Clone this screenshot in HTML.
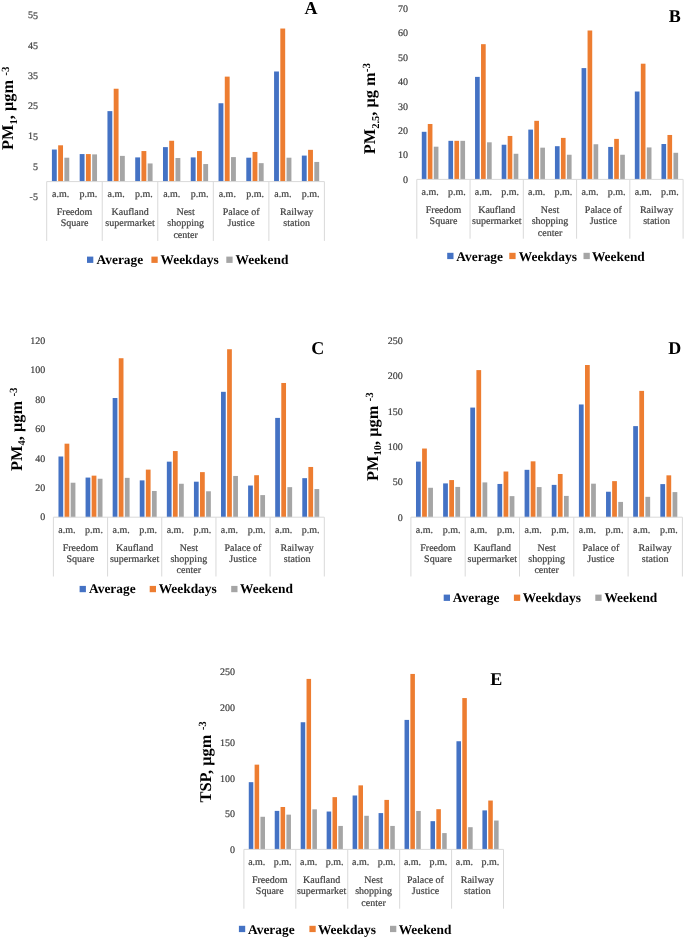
<!DOCTYPE html>
<html><head><meta charset="utf-8"><title>Particulate matter charts</title>
<style>
html,body{margin:0;padding:0;background:#fff;}
body{width:685px;height:937px;overflow:hidden;}
svg{display:block;will-change:transform;}
text{font-family:"Liberation Serif",serif;text-rendering:geometricPrecision;}
.tk{font-size:10px;fill:#404040;stroke:#404040;stroke-width:0.2px;}
.ttl{font-size:18px;font-weight:bold;fill:#000;}
.yt{font-size:16.4px;font-weight:bold;fill:#000;}
.yt .sm{font-size:10.5px;}
.yt .sp{font-size:11px;}
.lg{font-size:13.4px;font-weight:bold;fill:#000;}
</style></head>
<body>
<svg width="685" height="937" viewBox="0 0 685 937">
<rect width="685" height="937" fill="#fff"/>
<rect x="51.91" y="149.53" width="4.86" height="32.06" fill="#4472C4"/>
<rect x="58.16" y="145.3" width="4.86" height="36.3" fill="#ED7D31"/>
<rect x="64.4" y="157.7" width="4.86" height="23.9" fill="#A5A5A5"/>
<rect x="79.68" y="154.07" width="4.86" height="27.53" fill="#4472C4"/>
<rect x="85.93" y="154.07" width="4.86" height="27.53" fill="#ED7D31"/>
<rect x="92.17" y="154.38" width="4.86" height="27.22" fill="#A5A5A5"/>
<rect x="107.45" y="111.12" width="4.86" height="70.48" fill="#4472C4"/>
<rect x="113.7" y="88.73" width="4.86" height="92.87" fill="#ED7D31"/>
<rect x="119.94" y="155.89" width="4.86" height="25.71" fill="#A5A5A5"/>
<rect x="135.22" y="157.4" width="4.86" height="24.2" fill="#4472C4"/>
<rect x="141.47" y="151.05" width="4.86" height="30.55" fill="#ED7D31"/>
<rect x="147.71" y="163.45" width="4.86" height="18.15" fill="#A5A5A5"/>
<rect x="162.99" y="147.12" width="4.86" height="34.48" fill="#4472C4"/>
<rect x="169.24" y="140.76" width="4.86" height="40.84" fill="#ED7D31"/>
<rect x="175.48" y="158" width="4.86" height="23.59" fill="#A5A5A5"/>
<rect x="190.76" y="157.4" width="4.86" height="24.2" fill="#4472C4"/>
<rect x="197.01" y="151.05" width="4.86" height="30.55" fill="#ED7D31"/>
<rect x="203.25" y="164.06" width="4.86" height="17.54" fill="#A5A5A5"/>
<rect x="218.53" y="103.25" width="4.86" height="78.35" fill="#4472C4"/>
<rect x="224.78" y="76.63" width="4.86" height="104.97" fill="#ED7D31"/>
<rect x="231.02" y="157.1" width="4.86" height="24.5" fill="#A5A5A5"/>
<rect x="246.3" y="157.7" width="4.86" height="23.9" fill="#4472C4"/>
<rect x="252.55" y="151.95" width="4.86" height="29.64" fill="#ED7D31"/>
<rect x="258.79" y="163.15" width="4.86" height="18.45" fill="#A5A5A5"/>
<rect x="274.07" y="71.49" width="4.86" height="110.11" fill="#4472C4"/>
<rect x="280.32" y="28.53" width="4.86" height="153.06" fill="#ED7D31"/>
<rect x="286.56" y="157.7" width="4.86" height="23.9" fill="#A5A5A5"/>
<rect x="301.84" y="155.59" width="4.86" height="26.01" fill="#4472C4"/>
<rect x="308.09" y="149.84" width="4.86" height="31.76" fill="#ED7D31"/>
<rect x="314.33" y="161.94" width="4.86" height="19.66" fill="#A5A5A5"/>
<path d="M46.7 181.6H324.4" stroke="#D9D9D9" stroke-width="1" fill="none"/>
<path d="M46.7 181.6V240.9" stroke="#D9D9D9" stroke-width="1" fill="none"/>
<path d="M102.24 181.6V240.9" stroke="#D9D9D9" stroke-width="1" fill="none"/>
<path d="M157.78 181.6V240.9" stroke="#D9D9D9" stroke-width="1" fill="none"/>
<path d="M213.32 181.6V240.9" stroke="#D9D9D9" stroke-width="1" fill="none"/>
<path d="M268.86 181.6V240.9" stroke="#D9D9D9" stroke-width="1" fill="none"/>
<path d="M324.4 181.6V240.9" stroke="#D9D9D9" stroke-width="1" fill="none"/>
<rect x="421.79" y="131.8" width="4.66" height="47.6" fill="#4472C4"/>
<rect x="427.78" y="123.99" width="4.66" height="55.41" fill="#ED7D31"/>
<rect x="433.78" y="146.69" width="4.66" height="32.71" fill="#A5A5A5"/>
<rect x="448.42" y="140.83" width="4.66" height="38.57" fill="#4472C4"/>
<rect x="454.41" y="140.83" width="4.66" height="38.57" fill="#ED7D31"/>
<rect x="460.41" y="140.83" width="4.66" height="38.57" fill="#A5A5A5"/>
<rect x="475.05" y="76.88" width="4.66" height="102.52" fill="#4472C4"/>
<rect x="481.04" y="44.17" width="4.66" height="135.23" fill="#ED7D31"/>
<rect x="487.04" y="142.3" width="4.66" height="37.1" fill="#A5A5A5"/>
<rect x="501.68" y="144.74" width="4.66" height="34.66" fill="#4472C4"/>
<rect x="507.67" y="135.95" width="4.66" height="43.45" fill="#ED7D31"/>
<rect x="513.67" y="153.77" width="4.66" height="25.63" fill="#A5A5A5"/>
<rect x="528.31" y="129.6" width="4.66" height="49.8" fill="#4472C4"/>
<rect x="534.3" y="120.82" width="4.66" height="58.58" fill="#ED7D31"/>
<rect x="540.3" y="147.67" width="4.66" height="31.73" fill="#A5A5A5"/>
<rect x="554.94" y="146.2" width="4.66" height="33.2" fill="#4472C4"/>
<rect x="560.93" y="137.9" width="4.66" height="41.5" fill="#ED7D31"/>
<rect x="566.93" y="154.75" width="4.66" height="24.65" fill="#A5A5A5"/>
<rect x="581.57" y="68.09" width="4.66" height="111.31" fill="#4472C4"/>
<rect x="587.56" y="30.5" width="4.66" height="148.9" fill="#ED7D31"/>
<rect x="593.56" y="144.25" width="4.66" height="35.15" fill="#A5A5A5"/>
<rect x="608.2" y="146.93" width="4.66" height="32.47" fill="#4472C4"/>
<rect x="614.19" y="138.88" width="4.66" height="40.52" fill="#ED7D31"/>
<rect x="620.19" y="154.75" width="4.66" height="24.65" fill="#A5A5A5"/>
<rect x="634.83" y="91.52" width="4.66" height="87.88" fill="#4472C4"/>
<rect x="640.82" y="63.7" width="4.66" height="115.7" fill="#ED7D31"/>
<rect x="646.82" y="147.42" width="4.66" height="31.98" fill="#A5A5A5"/>
<rect x="661.46" y="144.01" width="4.66" height="35.39" fill="#4472C4"/>
<rect x="667.45" y="134.97" width="4.66" height="44.43" fill="#ED7D31"/>
<rect x="673.45" y="152.79" width="4.66" height="26.61" fill="#A5A5A5"/>
<path d="M416.8 179.4H683.1" stroke="#D9D9D9" stroke-width="1" fill="none"/>
<path d="M416.8 179.4V238.7" stroke="#D9D9D9" stroke-width="1" fill="none"/>
<path d="M470.06 179.4V238.7" stroke="#D9D9D9" stroke-width="1" fill="none"/>
<path d="M523.32 179.4V238.7" stroke="#D9D9D9" stroke-width="1" fill="none"/>
<path d="M576.58 179.4V238.7" stroke="#D9D9D9" stroke-width="1" fill="none"/>
<path d="M629.84 179.4V238.7" stroke="#D9D9D9" stroke-width="1" fill="none"/>
<path d="M683.1 179.4V238.7" stroke="#D9D9D9" stroke-width="1" fill="none"/>
<rect x="58.48" y="456.5" width="4.74" height="60.7" fill="#4472C4"/>
<rect x="64.57" y="443.68" width="4.74" height="73.52" fill="#ED7D31"/>
<rect x="70.67" y="482.72" width="4.74" height="34.48" fill="#A5A5A5"/>
<rect x="85.57" y="477.57" width="4.74" height="39.63" fill="#4472C4"/>
<rect x="91.66" y="475.65" width="4.74" height="41.55" fill="#ED7D31"/>
<rect x="97.76" y="478.75" width="4.74" height="38.45" fill="#A5A5A5"/>
<rect x="112.66" y="398.01" width="4.74" height="119.19" fill="#4472C4"/>
<rect x="118.75" y="358.23" width="4.74" height="158.97" fill="#ED7D31"/>
<rect x="124.85" y="477.86" width="4.74" height="39.34" fill="#A5A5A5"/>
<rect x="139.75" y="480.37" width="4.74" height="36.83" fill="#4472C4"/>
<rect x="145.84" y="469.61" width="4.74" height="47.59" fill="#ED7D31"/>
<rect x="151.94" y="490.98" width="4.74" height="26.22" fill="#A5A5A5"/>
<rect x="166.84" y="461.66" width="4.74" height="55.54" fill="#4472C4"/>
<rect x="172.93" y="451.05" width="4.74" height="66.15" fill="#ED7D31"/>
<rect x="179.03" y="483.76" width="4.74" height="33.44" fill="#A5A5A5"/>
<rect x="193.93" y="481.69" width="4.74" height="35.51" fill="#4472C4"/>
<rect x="200.02" y="472.12" width="4.74" height="45.08" fill="#ED7D31"/>
<rect x="206.12" y="491.27" width="4.74" height="25.93" fill="#A5A5A5"/>
<rect x="221.02" y="391.82" width="4.74" height="125.38" fill="#4472C4"/>
<rect x="227.11" y="349.24" width="4.74" height="167.96" fill="#ED7D31"/>
<rect x="233.21" y="475.95" width="4.74" height="41.25" fill="#A5A5A5"/>
<rect x="248.11" y="485.52" width="4.74" height="31.68" fill="#4472C4"/>
<rect x="254.2" y="475.21" width="4.74" height="41.99" fill="#ED7D31"/>
<rect x="260.3" y="495.1" width="4.74" height="22.1" fill="#A5A5A5"/>
<rect x="275.2" y="417.9" width="4.74" height="99.3" fill="#4472C4"/>
<rect x="281.29" y="382.98" width="4.74" height="134.22" fill="#ED7D31"/>
<rect x="287.39" y="487.14" width="4.74" height="30.06" fill="#A5A5A5"/>
<rect x="302.29" y="478.16" width="4.74" height="39.04" fill="#4472C4"/>
<rect x="308.38" y="466.96" width="4.74" height="50.24" fill="#ED7D31"/>
<rect x="314.48" y="489.06" width="4.74" height="28.14" fill="#A5A5A5"/>
<path d="M53.4 517.2H324.3" stroke="#D9D9D9" stroke-width="1" fill="none"/>
<path d="M53.4 517.2V576.5" stroke="#D9D9D9" stroke-width="1" fill="none"/>
<path d="M107.58 517.2V576.5" stroke="#D9D9D9" stroke-width="1" fill="none"/>
<path d="M161.76 517.2V576.5" stroke="#D9D9D9" stroke-width="1" fill="none"/>
<path d="M215.94 517.2V576.5" stroke="#D9D9D9" stroke-width="1" fill="none"/>
<path d="M270.12 517.2V576.5" stroke="#D9D9D9" stroke-width="1" fill="none"/>
<path d="M324.3 517.2V576.5" stroke="#D9D9D9" stroke-width="1" fill="none"/>
<rect x="415.99" y="461.61" width="4.75" height="55.59" fill="#4472C4"/>
<rect x="422.1" y="448.53" width="4.75" height="68.67" fill="#ED7D31"/>
<rect x="428.21" y="487.78" width="4.75" height="29.42" fill="#A5A5A5"/>
<rect x="443.14" y="483.4" width="4.75" height="33.8" fill="#4472C4"/>
<rect x="449.25" y="480.07" width="4.75" height="37.13" fill="#ED7D31"/>
<rect x="455.36" y="486.93" width="4.75" height="30.27" fill="#A5A5A5"/>
<rect x="470.29" y="407.58" width="4.75" height="109.62" fill="#4472C4"/>
<rect x="476.4" y="370.1" width="4.75" height="147.1" fill="#ED7D31"/>
<rect x="482.51" y="482.41" width="4.75" height="34.79" fill="#A5A5A5"/>
<rect x="497.44" y="483.96" width="4.75" height="33.24" fill="#4472C4"/>
<rect x="503.55" y="471.51" width="4.75" height="45.69" fill="#ED7D31"/>
<rect x="509.66" y="496.13" width="4.75" height="21.07" fill="#A5A5A5"/>
<rect x="524.59" y="469.82" width="4.75" height="47.38" fill="#4472C4"/>
<rect x="530.7" y="461.33" width="4.75" height="55.87" fill="#ED7D31"/>
<rect x="536.81" y="487.07" width="4.75" height="30.13" fill="#A5A5A5"/>
<rect x="551.74" y="484.88" width="4.75" height="32.32" fill="#4472C4"/>
<rect x="557.85" y="473.99" width="4.75" height="43.21" fill="#ED7D31"/>
<rect x="563.96" y="495.91" width="4.75" height="21.29" fill="#A5A5A5"/>
<rect x="578.89" y="404.47" width="4.75" height="112.73" fill="#4472C4"/>
<rect x="585" y="365.01" width="4.75" height="152.19" fill="#ED7D31"/>
<rect x="591.11" y="483.68" width="4.75" height="33.52" fill="#A5A5A5"/>
<rect x="606.04" y="491.74" width="4.75" height="25.46" fill="#4472C4"/>
<rect x="612.15" y="481.13" width="4.75" height="36.07" fill="#ED7D31"/>
<rect x="618.26" y="501.92" width="4.75" height="15.28" fill="#A5A5A5"/>
<rect x="633.19" y="426.11" width="4.75" height="91.09" fill="#4472C4"/>
<rect x="639.3" y="390.89" width="4.75" height="126.31" fill="#ED7D31"/>
<rect x="645.41" y="496.83" width="4.75" height="20.37" fill="#A5A5A5"/>
<rect x="660.34" y="484.1" width="4.75" height="33.1" fill="#4472C4"/>
<rect x="666.45" y="475.33" width="4.75" height="41.87" fill="#ED7D31"/>
<rect x="672.56" y="492.09" width="4.75" height="25.11" fill="#A5A5A5"/>
<path d="M410.9 517.2H682.4" stroke="#D9D9D9" stroke-width="1" fill="none"/>
<path d="M410.9 517.2V576.5" stroke="#D9D9D9" stroke-width="1" fill="none"/>
<path d="M465.2 517.2V576.5" stroke="#D9D9D9" stroke-width="1" fill="none"/>
<path d="M519.5 517.2V576.5" stroke="#D9D9D9" stroke-width="1" fill="none"/>
<path d="M573.8 517.2V576.5" stroke="#D9D9D9" stroke-width="1" fill="none"/>
<path d="M628.1 517.2V576.5" stroke="#D9D9D9" stroke-width="1" fill="none"/>
<path d="M682.4 517.2V576.5" stroke="#D9D9D9" stroke-width="1" fill="none"/>
<rect x="248.77" y="782.17" width="4.54" height="67.23" fill="#4472C4"/>
<rect x="254.61" y="764.65" width="4.54" height="84.75" fill="#ED7D31"/>
<rect x="260.45" y="816.78" width="4.54" height="32.62" fill="#A5A5A5"/>
<rect x="274.73" y="810.89" width="4.54" height="38.51" fill="#4472C4"/>
<rect x="280.57" y="806.99" width="4.54" height="42.41" fill="#ED7D31"/>
<rect x="286.41" y="814.65" width="4.54" height="34.75" fill="#A5A5A5"/>
<rect x="300.69" y="722.24" width="4.54" height="127.16" fill="#4472C4"/>
<rect x="306.53" y="678.91" width="4.54" height="170.49" fill="#ED7D31"/>
<rect x="312.37" y="809.33" width="4.54" height="40.07" fill="#A5A5A5"/>
<rect x="326.65" y="811.53" width="4.54" height="37.87" fill="#4472C4"/>
<rect x="332.49" y="797.13" width="4.54" height="52.27" fill="#ED7D31"/>
<rect x="338.33" y="825.93" width="4.54" height="23.47" fill="#A5A5A5"/>
<rect x="352.61" y="795.5" width="4.54" height="53.9" fill="#4472C4"/>
<rect x="358.45" y="785.36" width="4.54" height="64.04" fill="#ED7D31"/>
<rect x="364.29" y="815.78" width="4.54" height="33.62" fill="#A5A5A5"/>
<rect x="378.57" y="813.09" width="4.54" height="36.31" fill="#4472C4"/>
<rect x="384.41" y="799.9" width="4.54" height="49.5" fill="#ED7D31"/>
<rect x="390.25" y="825.93" width="4.54" height="23.47" fill="#A5A5A5"/>
<rect x="404.53" y="719.9" width="4.54" height="129.5" fill="#4472C4"/>
<rect x="410.37" y="673.94" width="4.54" height="175.46" fill="#ED7D31"/>
<rect x="416.21" y="810.96" width="4.54" height="38.44" fill="#A5A5A5"/>
<rect x="430.49" y="821.17" width="4.54" height="28.23" fill="#4472C4"/>
<rect x="436.33" y="809.19" width="4.54" height="40.21" fill="#ED7D31"/>
<rect x="442.17" y="833.09" width="4.54" height="16.31" fill="#A5A5A5"/>
<rect x="456.45" y="741.25" width="4.54" height="108.15" fill="#4472C4"/>
<rect x="462.29" y="698.06" width="4.54" height="151.34" fill="#ED7D31"/>
<rect x="468.13" y="827.2" width="4.54" height="22.2" fill="#A5A5A5"/>
<rect x="482.41" y="810.39" width="4.54" height="39.01" fill="#4472C4"/>
<rect x="488.25" y="800.54" width="4.54" height="48.86" fill="#ED7D31"/>
<rect x="494.09" y="820.54" width="4.54" height="28.86" fill="#A5A5A5"/>
<path d="M243.9 849.4H503.5" stroke="#D9D9D9" stroke-width="1" fill="none"/>
<path d="M243.9 849.4V908.7" stroke="#D9D9D9" stroke-width="1" fill="none"/>
<path d="M295.82 849.4V908.7" stroke="#D9D9D9" stroke-width="1" fill="none"/>
<path d="M347.74 849.4V908.7" stroke="#D9D9D9" stroke-width="1" fill="none"/>
<path d="M399.66 849.4V908.7" stroke="#D9D9D9" stroke-width="1" fill="none"/>
<path d="M451.58 849.4V908.7" stroke="#D9D9D9" stroke-width="1" fill="none"/>
<path d="M503.5 849.4V908.7" stroke="#D9D9D9" stroke-width="1" fill="none"/>
<rect x="87" y="256.6" width="6.3" height="6.3" fill="#4472C4"/>
<rect x="151.4" y="256.6" width="6.3" height="6.3" fill="#ED7D31"/>
<rect x="226.3" y="256.6" width="6.3" height="6.3" fill="#A5A5A5"/>
<rect x="447.2" y="252.8" width="6.3" height="6.3" fill="#4472C4"/>
<rect x="509.3" y="252.8" width="6.3" height="6.3" fill="#ED7D31"/>
<rect x="583.5" y="252.8" width="6.3" height="6.3" fill="#A5A5A5"/>
<rect x="79.6" y="585.9" width="6.3" height="6.3" fill="#4472C4"/>
<rect x="149.7" y="585.9" width="6.3" height="6.3" fill="#ED7D31"/>
<rect x="231.2" y="585.9" width="6.3" height="6.3" fill="#A5A5A5"/>
<rect x="443.7" y="594.6" width="6.3" height="6.3" fill="#4472C4"/>
<rect x="513.9" y="594.6" width="6.3" height="6.3" fill="#ED7D31"/>
<rect x="595.3" y="594.6" width="6.3" height="6.3" fill="#A5A5A5"/>
<rect x="238.9" y="925.8" width="6.3" height="6.3" fill="#4472C4"/>
<rect x="309.4" y="925.8" width="6.3" height="6.3" fill="#ED7D31"/>
<rect x="390" y="925.8" width="6.3" height="6.3" fill="#A5A5A5"/>
<g transform="rotate(0.02 342.5 468.5)">
<text class="tk" x="37.8" y="18.62" text-anchor="end">55</text>
<text class="tk" x="37.8" y="48.87" text-anchor="end">45</text>
<text class="tk" x="37.8" y="79.12" text-anchor="end">35</text>
<text class="tk" x="37.8" y="109.38" text-anchor="end">25</text>
<text class="tk" x="37.8" y="139.62" text-anchor="end">15</text>
<text class="tk" x="37.8" y="169.88" text-anchor="end">5</text>
<text class="tk" x="37.8" y="200.12" text-anchor="end">-5</text>
<text class="tk" x="60.59" y="197.2" text-anchor="middle">a.m.</text>
<text class="tk" x="88.36" y="197.2" text-anchor="middle">p.m.</text>
<text class="tk" x="116.13" y="197.2" text-anchor="middle">a.m.</text>
<text class="tk" x="143.89" y="197.2" text-anchor="middle">p.m.</text>
<text class="tk" x="171.66" y="197.2" text-anchor="middle">a.m.</text>
<text class="tk" x="199.44" y="197.2" text-anchor="middle">p.m.</text>
<text class="tk" x="227.2" y="197.2" text-anchor="middle">a.m.</text>
<text class="tk" x="254.97" y="197.2" text-anchor="middle">p.m.</text>
<text class="tk" x="282.75" y="197.2" text-anchor="middle">a.m.</text>
<text class="tk" x="310.51" y="197.2" text-anchor="middle">p.m.</text>
<text class="tk" x="74.47" y="215.1" text-anchor="middle">Freedom</text>
<text class="tk" x="74.47" y="226.4" text-anchor="middle">Square</text>
<text class="tk" x="130.01" y="215.1" text-anchor="middle">Kaufland</text>
<text class="tk" x="130.01" y="226.4" text-anchor="middle">supermarket</text>
<text class="tk" x="185.55" y="215.1" text-anchor="middle">Nest</text>
<text class="tk" x="185.55" y="226.4" text-anchor="middle">shopping</text>
<text class="tk" x="185.55" y="237.7" text-anchor="middle">center</text>
<text class="tk" x="241.09" y="215.1" text-anchor="middle">Palace of</text>
<text class="tk" x="241.09" y="226.4" text-anchor="middle">Justice</text>
<text class="tk" x="296.63" y="215.1" text-anchor="middle">Railway</text>
<text class="tk" x="296.63" y="226.4" text-anchor="middle">station</text>
<text class="ttl" x="304.3" y="13.8">A</text>
<text class="yt" transform="translate(13.3 150.1) rotate(-90)"><tspan dy="0">PM</tspan><tspan dy="3.5" class="sm">1</tspan><tspan dy="-3.5">,&#160;μgm</tspan><tspan dy="-4.7" dx="1.5" class="sp">&#160;-3</tspan></text>
<text class="tk" x="407.8" y="11.93" text-anchor="end">70</text>
<text class="tk" x="407.8" y="36.34" text-anchor="end">60</text>
<text class="tk" x="407.8" y="60.75" text-anchor="end">50</text>
<text class="tk" x="407.8" y="85.16" text-anchor="end">40</text>
<text class="tk" x="407.8" y="109.57" text-anchor="end">30</text>
<text class="tk" x="407.8" y="133.98" text-anchor="end">20</text>
<text class="tk" x="407.8" y="158.39" text-anchor="end">10</text>
<text class="tk" x="407.8" y="182.8" text-anchor="end">0</text>
<text class="tk" x="430.12" y="195" text-anchor="middle">a.m.</text>
<text class="tk" x="456.75" y="195" text-anchor="middle">p.m.</text>
<text class="tk" x="483.38" y="195" text-anchor="middle">a.m.</text>
<text class="tk" x="510.01" y="195" text-anchor="middle">p.m.</text>
<text class="tk" x="536.64" y="195" text-anchor="middle">a.m.</text>
<text class="tk" x="563.27" y="195" text-anchor="middle">p.m.</text>
<text class="tk" x="589.9" y="195" text-anchor="middle">a.m.</text>
<text class="tk" x="616.53" y="195" text-anchor="middle">p.m.</text>
<text class="tk" x="643.16" y="195" text-anchor="middle">a.m.</text>
<text class="tk" x="669.79" y="195" text-anchor="middle">p.m.</text>
<text class="tk" x="443.43" y="212.9" text-anchor="middle">Freedom</text>
<text class="tk" x="443.43" y="224.2" text-anchor="middle">Square</text>
<text class="tk" x="496.69" y="212.9" text-anchor="middle">Kaufland</text>
<text class="tk" x="496.69" y="224.2" text-anchor="middle">supermarket</text>
<text class="tk" x="549.95" y="212.9" text-anchor="middle">Nest</text>
<text class="tk" x="549.95" y="224.2" text-anchor="middle">shopping</text>
<text class="tk" x="549.95" y="235.5" text-anchor="middle">center</text>
<text class="tk" x="603.21" y="212.9" text-anchor="middle">Palace of</text>
<text class="tk" x="603.21" y="224.2" text-anchor="middle">Justice</text>
<text class="tk" x="656.47" y="212.9" text-anchor="middle">Railway</text>
<text class="tk" x="656.47" y="224.2" text-anchor="middle">station</text>
<text class="ttl" x="668.7" y="21.6">B</text>
<text class="yt" transform="translate(375 154.3) rotate(-90)"><tspan dy="0">PM</tspan><tspan dy="3.5" class="sm">2.5</tspan><tspan dy="-3.5">,&#160;μg&#160;m</tspan><tspan dy="-4.7" class="sp">-3</tspan></text>
<text class="tk" x="45.2" y="343.8" text-anchor="end">120</text>
<text class="tk" x="45.2" y="373.27" text-anchor="end">100</text>
<text class="tk" x="45.2" y="402.74" text-anchor="end">80</text>
<text class="tk" x="45.2" y="432.2" text-anchor="end">60</text>
<text class="tk" x="45.2" y="461.67" text-anchor="end">40</text>
<text class="tk" x="45.2" y="491.13" text-anchor="end">20</text>
<text class="tk" x="45.2" y="520.6" text-anchor="end">0</text>
<text class="tk" x="66.94" y="532.8" text-anchor="middle">a.m.</text>
<text class="tk" x="94.04" y="532.8" text-anchor="middle">p.m.</text>
<text class="tk" x="121.13" y="532.8" text-anchor="middle">a.m.</text>
<text class="tk" x="148.22" y="532.8" text-anchor="middle">p.m.</text>
<text class="tk" x="175.31" y="532.8" text-anchor="middle">a.m.</text>
<text class="tk" x="202.4" y="532.8" text-anchor="middle">p.m.</text>
<text class="tk" x="229.49" y="532.8" text-anchor="middle">a.m.</text>
<text class="tk" x="256.58" y="532.8" text-anchor="middle">p.m.</text>
<text class="tk" x="283.67" y="532.8" text-anchor="middle">a.m.</text>
<text class="tk" x="310.76" y="532.8" text-anchor="middle">p.m.</text>
<text class="tk" x="80.49" y="550.7" text-anchor="middle">Freedom</text>
<text class="tk" x="80.49" y="562" text-anchor="middle">Square</text>
<text class="tk" x="134.67" y="550.7" text-anchor="middle">Kaufland</text>
<text class="tk" x="134.67" y="562" text-anchor="middle">supermarket</text>
<text class="tk" x="188.85" y="550.7" text-anchor="middle">Nest</text>
<text class="tk" x="188.85" y="562" text-anchor="middle">shopping</text>
<text class="tk" x="188.85" y="573.3" text-anchor="middle">center</text>
<text class="tk" x="243.03" y="550.7" text-anchor="middle">Palace of</text>
<text class="tk" x="243.03" y="562" text-anchor="middle">Justice</text>
<text class="tk" x="297.21" y="550.7" text-anchor="middle">Railway</text>
<text class="tk" x="297.21" y="562" text-anchor="middle">station</text>
<text class="ttl" x="311.3" y="353.7">C</text>
<text class="yt" transform="translate(21.7 471) rotate(-90)"><tspan dy="0">PM</tspan><tspan dy="3.5" class="sm">4</tspan><tspan dy="-3.5">,&#160;μgm</tspan><tspan dy="-4.7" dx="1.5" class="sp">&#160;-3</tspan></text>
<text class="tk" x="402.8" y="343.8" text-anchor="end">250</text>
<text class="tk" x="402.8" y="379.16" text-anchor="end">200</text>
<text class="tk" x="402.8" y="414.52" text-anchor="end">150</text>
<text class="tk" x="402.8" y="449.88" text-anchor="end">100</text>
<text class="tk" x="402.8" y="485.24" text-anchor="end">50</text>
<text class="tk" x="402.8" y="520.6" text-anchor="end">0</text>
<text class="tk" x="424.47" y="532.8" text-anchor="middle">a.m.</text>
<text class="tk" x="451.62" y="532.8" text-anchor="middle">p.m.</text>
<text class="tk" x="478.77" y="532.8" text-anchor="middle">a.m.</text>
<text class="tk" x="505.92" y="532.8" text-anchor="middle">p.m.</text>
<text class="tk" x="533.08" y="532.8" text-anchor="middle">a.m.</text>
<text class="tk" x="560.23" y="532.8" text-anchor="middle">p.m.</text>
<text class="tk" x="587.38" y="532.8" text-anchor="middle">a.m.</text>
<text class="tk" x="614.52" y="532.8" text-anchor="middle">p.m.</text>
<text class="tk" x="641.67" y="532.8" text-anchor="middle">a.m.</text>
<text class="tk" x="668.83" y="532.8" text-anchor="middle">p.m.</text>
<text class="tk" x="438.05" y="550.7" text-anchor="middle">Freedom</text>
<text class="tk" x="438.05" y="562" text-anchor="middle">Square</text>
<text class="tk" x="492.35" y="550.7" text-anchor="middle">Kaufland</text>
<text class="tk" x="492.35" y="562" text-anchor="middle">supermarket</text>
<text class="tk" x="546.65" y="550.7" text-anchor="middle">Nest</text>
<text class="tk" x="546.65" y="562" text-anchor="middle">shopping</text>
<text class="tk" x="546.65" y="573.3" text-anchor="middle">center</text>
<text class="tk" x="600.95" y="550.7" text-anchor="middle">Palace of</text>
<text class="tk" x="600.95" y="562" text-anchor="middle">Justice</text>
<text class="tk" x="655.25" y="550.7" text-anchor="middle">Railway</text>
<text class="tk" x="655.25" y="562" text-anchor="middle">station</text>
<text class="ttl" x="668.3" y="353.8">D</text>
<text class="yt" transform="translate(377.6 481) rotate(-90)"><tspan dy="0">PM</tspan><tspan dy="3.5" class="sm">10</tspan><tspan dy="-3.5">,&#160;μgm</tspan><tspan dy="-4.7" dx="1.5" class="sp">&#160;-3</tspan></text>
<text class="tk" x="235.2" y="675.5" text-anchor="end">250</text>
<text class="tk" x="235.2" y="710.96" text-anchor="end">200</text>
<text class="tk" x="235.2" y="746.42" text-anchor="end">150</text>
<text class="tk" x="235.2" y="781.88" text-anchor="end">100</text>
<text class="tk" x="235.2" y="817.34" text-anchor="end">50</text>
<text class="tk" x="235.2" y="852.8" text-anchor="end">0</text>
<text class="tk" x="256.88" y="865" text-anchor="middle">a.m.</text>
<text class="tk" x="282.84" y="865" text-anchor="middle">p.m.</text>
<text class="tk" x="308.8" y="865" text-anchor="middle">a.m.</text>
<text class="tk" x="334.76" y="865" text-anchor="middle">p.m.</text>
<text class="tk" x="360.72" y="865" text-anchor="middle">a.m.</text>
<text class="tk" x="386.68" y="865" text-anchor="middle">p.m.</text>
<text class="tk" x="412.64" y="865" text-anchor="middle">a.m.</text>
<text class="tk" x="438.6" y="865" text-anchor="middle">p.m.</text>
<text class="tk" x="464.56" y="865" text-anchor="middle">a.m.</text>
<text class="tk" x="490.52" y="865" text-anchor="middle">p.m.</text>
<text class="tk" x="269.86" y="882.9" text-anchor="middle">Freedom</text>
<text class="tk" x="269.86" y="894.2" text-anchor="middle">Square</text>
<text class="tk" x="321.78" y="882.9" text-anchor="middle">Kaufland</text>
<text class="tk" x="321.78" y="894.2" text-anchor="middle">supermarket</text>
<text class="tk" x="373.7" y="882.9" text-anchor="middle">Nest</text>
<text class="tk" x="373.7" y="894.2" text-anchor="middle">shopping</text>
<text class="tk" x="373.7" y="905.5" text-anchor="middle">center</text>
<text class="tk" x="425.62" y="882.9" text-anchor="middle">Palace of</text>
<text class="tk" x="425.62" y="894.2" text-anchor="middle">Justice</text>
<text class="tk" x="477.54" y="882.9" text-anchor="middle">Railway</text>
<text class="tk" x="477.54" y="894.2" text-anchor="middle">station</text>
<text class="ttl" x="490.3" y="685">E</text>
<text class="yt" transform="translate(211 802.5) rotate(-90)"><tspan dy="0">TSP,&#160;μgm</tspan><tspan dy="-4.7" dx="1.5" class="sp">&#160;-3</tspan></text>
<text class="lg" x="96.5" y="264.1">Average</text>
<text class="lg" x="160.5" y="264.1">Weekdays</text>
<text class="lg" x="235.5" y="264.1">Weekend</text>
<text class="lg" x="456.3" y="260.7">Average</text>
<text class="lg" x="518.8" y="260.7">Weekdays</text>
<text class="lg" x="591.9" y="260.7">Weekend</text>
<text class="lg" x="89.1" y="593.3">Average</text>
<text class="lg" x="158.7" y="593.3">Weekdays</text>
<text class="lg" x="240.1" y="593.3">Weekend</text>
<text class="lg" x="452.9" y="602.2">Average</text>
<text class="lg" x="522.9" y="602.2">Weekdays</text>
<text class="lg" x="604.5" y="602.2">Weekend</text>
<text class="lg" x="248.2" y="934">Average</text>
<text class="lg" x="318.1" y="934">Weekdays</text>
<text class="lg" x="398.8" y="934">Weekend</text>
</g>
</svg>
</body></html>
